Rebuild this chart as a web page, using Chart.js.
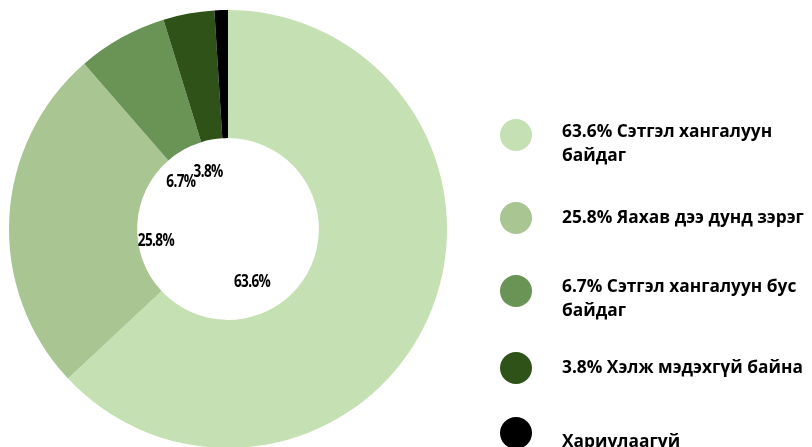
<!DOCTYPE html>
<html>
<head>
<meta charset="utf-8">
<script src="https://cdn.jsdelivr.net/npm/chart.js@4"></script>
<style>
  html, body { margin: 0; padding: 0; background: #fff; overflow: hidden; }
  #wrap { position: absolute; left: 0; top: 0; width: 812px; height: 449px; }
</style>
</head>
<body>
<div id="wrap"><canvas id="c"></canvas></div>
<script>
// ---- data ----
const categories = [
  "Сэтгэл хангалуун байдаг",
  "Яахав дээ дунд зэрэг",
  "Сэтгэл хангалуун бус байдаг",
  "Хэлж мэдэхгүй байна",
  "Хариулаагүй"
];
const values = [63.6, 25.8, 6.7, 3.8, 1.0];
const sliceLabels = ["63.6%", "25.8%", "6.7%", "3.8%", ""];
const legendLines = [
  ["63.6% Сэтгэл хангалуун", "байдаг"],
  ["25.8% Яахав дээ дунд зэрэг"],
  ["6.7% Сэтгэл хангалуун бус", "байдаг"],
  ["3.8% Хэлж мэдэхгүй байна"],
  ["Хариулаагүй"]
];
const colors = ["#c5e0b3", "#a8c592", "#6a9356", "#2f5219", "#000000"];

// ---- label placement (relative to outer radius, from chart centre) ----
const labelOffsets = [[0.110, 0.242], [-0.329, 0.055], [-0.215, -0.215], [-0.091, -0.26], [0, 0]];

const sliceLabelPlugin = {
  id: 'sliceLabels',
  afterDatasetsDraw(chart) {
    const ctx = chart.ctx;
    const arc = chart.getDatasetMeta(0).data[0];
    const cx = arc.x, cy = arc.y, R = arc.outerRadius;
    ctx.save();
    ctx.fillStyle = '#000';
    ctx.font = 'bold 17px "Open Sans"';
    ctx.textAlign = 'center';
    ctx.textBaseline = 'middle';
    sliceLabels.forEach((t, i) => {
      if (!t) return;
      const x = cx + labelOffsets[i][0] * R;
      const y = cy + labelOffsets[i][1] * R;
      ctx.save();
      ctx.translate(x, y);
      ctx.scale(0.8, 1);
      ctx.letterSpacing = '-0.8px';
      ctx.fillText(t, 0, 0);
      ctx.restore();
    });
    ctx.restore();
  }
};

const legendPlugin = {
  id: 'customLegend',
  afterDraw(chart, args, opts) {
    const ctx = chart.ctx;
    ctx.save();
    ctx.font = 'bold 17.5px "Open Sans"';
    ctx.textBaseline = 'middle';
    ctx.textAlign = 'left';
    legendLines.forEach((lines, i) => {
      ctx.fillStyle = colors[i];
      ctx.beginPath();
      ctx.arc(opts.markerX, opts.markerY[i], opts.markerR, 0, Math.PI * 2);
      ctx.fill();
      ctx.fillStyle = '#000';
      lines.forEach((ln, j) => {
        ctx.save();
        ctx.translate(opts.textX, opts.textY[i] + j * opts.lineH);
        ctx.scale(0.99, 1);
        ctx.fillText(ln, 0, 0);
        ctx.restore();
      });
    });
    ctx.restore();
  }
};

new Chart(document.getElementById('c'), {
  type: 'doughnut',
  data: {
    labels: categories,
    datasets: [{
      data: values,
      backgroundColor: colors,
      borderWidth: 0
    }]
  },
  options: {
    responsive: true,
    maintainAspectRatio: false,
    animation: false,
    cutout: '41.5%',
    layout: { padding: { left: 9, top: 10, right: 365, bottom: 1 } },
    plugins: {
      legend: { display: false },
      tooltip: { enabled: false },
      customLegend: {
        markerX: 516, markerR: 16,
        markerY: [135, 218, 291, 368, 433],
        textX: 562,
        textY: [132, 218, 287, 368, 442],
        lineH: 24
      }
    }
  },
  plugins: [sliceLabelPlugin, legendPlugin]
});
</script>
</body>
</html>
